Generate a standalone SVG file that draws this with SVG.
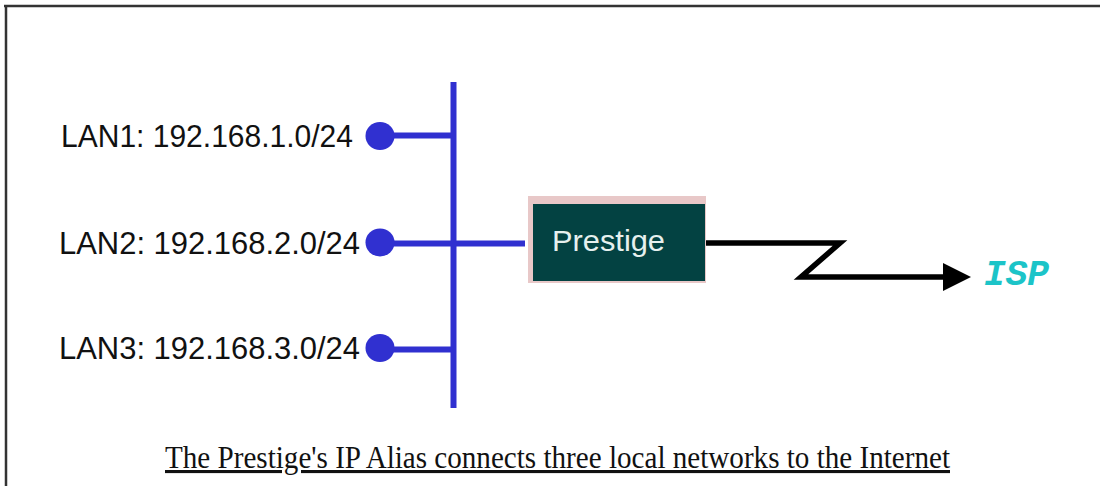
<svg xmlns="http://www.w3.org/2000/svg" width="1100" height="486" viewBox="0 0 1100 486">
<style>
.lan{font-family:"Liberation Sans",Arial,sans-serif;font-size:31px;fill:#111}
.blue{stroke:#3030D0;stroke-width:6;fill:none}
.dot{fill:#3030D0}
.wan{stroke:#000;stroke-width:5.5;fill:none;stroke-linejoin:miter}
</style>
<defs>
<marker id="arrow" markerUnits="userSpaceOnUse" markerWidth="30" markerHeight="28" refX="7" refY="14" orient="auto">
<polygon points="0,0 28,14 0,28" fill="#000"/>
</marker>
</defs>
<rect width="1100" height="486" fill="#fff"/>
<g id="frame">
<line x1="4" y1="6" x2="1100" y2="6" stroke="#333" stroke-width="2.5"/>
<line x1="6" y1="5" x2="6" y2="486" stroke="#333" stroke-width="2.5"/>
</g>
<g id="connectors">
<line class="blue" x1="453.5" y1="82" x2="453.5" y2="408"/>
<line class="blue" x1="380" y1="135.5" x2="453.5" y2="135.5"/>
<line class="blue" x1="380" y1="243.5" x2="525" y2="243.5"/>
<line class="blue" x1="380" y1="349.5" x2="453.5" y2="349.5"/>
<polyline class="wan" points="706,243 840,243 801,277 950,277" marker-end="url(#arrow)"/>
</g>
<g id="lan1">
<ellipse class="dot" cx="380" cy="136" rx="14.5" ry="14"/>
<text class="lan" x="61" y="147" textLength="292" lengthAdjust="spacingAndGlyphs">LAN1: 192.168.1.0/24</text>
</g>
<g id="lan2">
<ellipse class="dot" cx="380" cy="242.5" rx="14.5" ry="14"/>
<text class="lan" x="59" y="254" textLength="301" lengthAdjust="spacingAndGlyphs">LAN2: 192.168.2.0/24</text>
</g>
<g id="lan3">
<ellipse class="dot" cx="380" cy="348" rx="14.5" ry="14"/>
<text class="lan" x="59" y="359" textLength="301" lengthAdjust="spacingAndGlyphs">LAN3: 192.168.3.0/24</text>
</g>
<g id="prestige">
<rect x="528" y="196" width="178" height="87" fill="#E8C8C8"/>
<rect x="533" y="204" width="172" height="77" fill="#034242"/>
<text x="552" y="251" font-family="'Liberation Sans',Arial,sans-serif" font-size="30" fill="#E6F0EE" textLength="113" lengthAdjust="spacingAndGlyphs">Prestige</text>
</g>
<g id="isp">
<text x="984" y="285" font-family="'Liberation Mono','Courier New',monospace" font-size="36" font-weight="bold" font-style="italic" fill="#1CC4C8" textLength="65" lengthAdjust="spacingAndGlyphs">ISP</text>
</g>
<g id="caption">
<text x="165" y="468" font-family="'Liberation Serif','Times New Roman',serif" font-size="31" fill="#111" text-decoration="underline" textLength="785" lengthAdjust="spacingAndGlyphs">The Prestige's IP Alias connects three local networks to the Internet</text>
</g>
</svg>
